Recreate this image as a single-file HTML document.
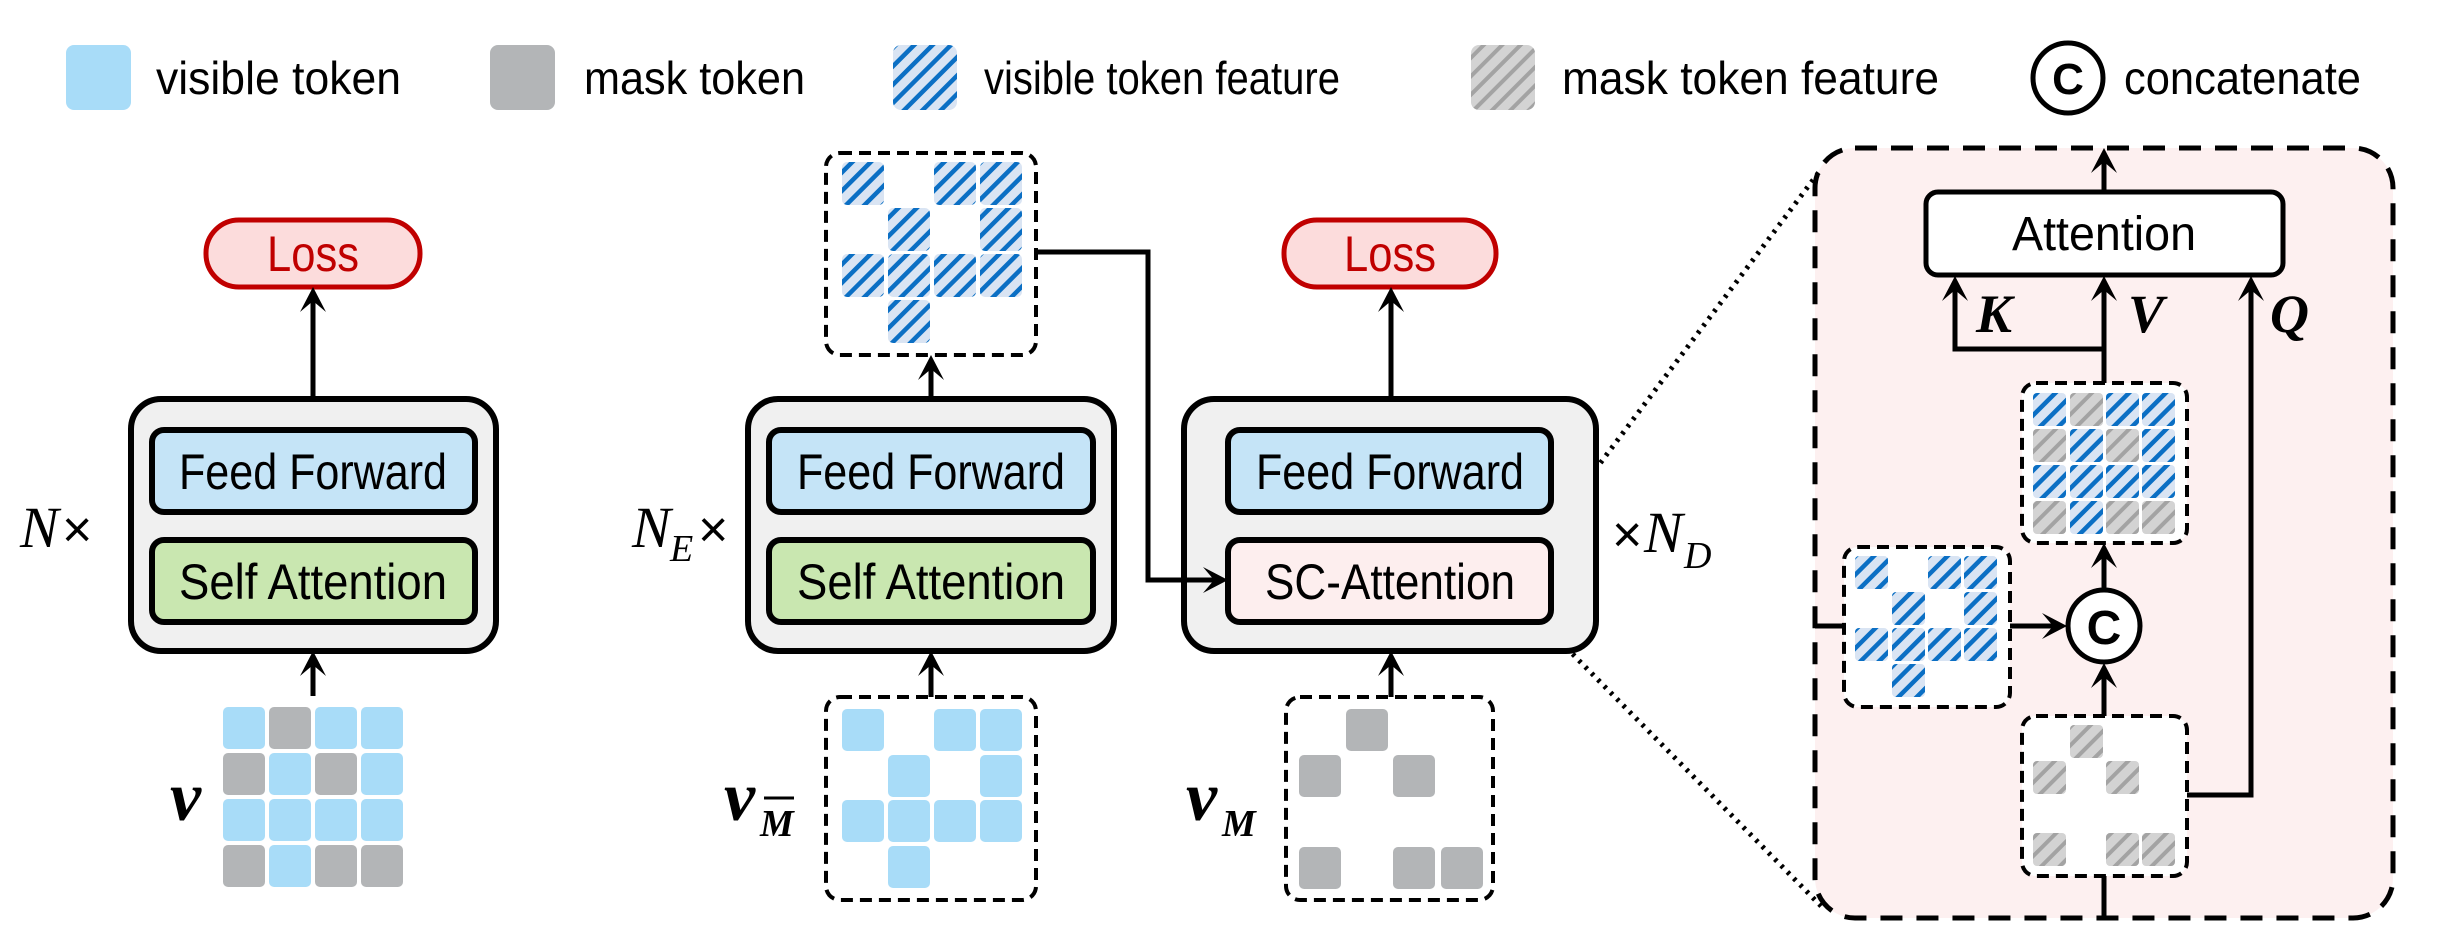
<!DOCTYPE html>
<html><head><meta charset="utf-8"><style>
html,body{margin:0;padding:0;background:#fff;}
svg{display:block;}
text{font-family:"Liberation Sans",sans-serif;}
.m{font-family:"Liberation Serif",serif;font-style:italic;}
</style></head><body>
<svg width="2440" height="936" viewBox="0 0 2440 936" xmlns="http://www.w3.org/2000/svg">
<defs>
<pattern id="hb" patternUnits="userSpaceOnUse" width="13" height="13" patternTransform="rotate(45)">
<rect width="13" height="13" fill="#d9e4f3"/><rect x="0" y="0" width="4.5" height="13" fill="#0b6fc4"/>
</pattern>
<pattern id="hg" patternUnits="userSpaceOnUse" width="13" height="13" patternTransform="rotate(45)">
<rect width="13" height="13" fill="#d3d3d3"/><rect x="0" y="0" width="4" height="13" fill="#a3a3a3"/>
</pattern>
</defs>

<!-- Legend -->
<rect x="66" y="45" width="65" height="65" rx="8" fill="#a8dcf8"/>
<text x="156" y="94" font-size="46" textLength="245" lengthAdjust="spacingAndGlyphs">visible token</text>
<rect x="490" y="45" width="65" height="65" rx="8" fill="#b3b5b7"/>
<text x="584" y="94" font-size="46" textLength="221" lengthAdjust="spacingAndGlyphs">mask token</text>
<rect x="893" y="45" width="64" height="65" rx="8" fill="url(#hb)"/>
<text x="984" y="94" font-size="46" textLength="356" lengthAdjust="spacingAndGlyphs">visible token feature</text>
<rect x="1471" y="45" width="64" height="65" rx="8" fill="url(#hg)"/>
<text x="1562" y="94" font-size="46" textLength="377" lengthAdjust="spacingAndGlyphs">mask token feature</text>
<circle cx="2068" cy="78" r="35" fill="#fff" stroke="#000" stroke-width="5"/>
<text x="2068" y="94" font-size="44" font-weight="bold" text-anchor="middle">C</text>
<text x="2124" y="94" font-size="46" textLength="237" lengthAdjust="spacingAndGlyphs">concatenate</text>

<!-- Zoom panel background + dotted lines -->
<rect x="1815" y="148" width="578" height="770" rx="40" fill="#fdf0f0" stroke="#000" stroke-width="5" stroke-dasharray="22,14"/>
<line x1="1541" y1="542" x2="1819" y2="172" stroke="#000" stroke-width="5" stroke-dasharray="3,6"/>
<line x1="1541" y1="622" x2="1823" y2="908" stroke="#000" stroke-width="5" stroke-dasharray="3,6"/>

<!-- Left block -->
<rect x="131" y="399" width="365" height="252" rx="30" fill="#f0f0f0" stroke="#000" stroke-width="6"/>
<rect x="152" y="430" width="323" height="82" rx="12" fill="#c5e4f7" stroke="#000" stroke-width="6"/>
<text x="313" y="489" font-size="50" text-anchor="middle" textLength="268" lengthAdjust="spacingAndGlyphs">Feed Forward</text>
<rect x="152" y="540" width="323" height="82" rx="12" fill="#c9e7b0" stroke="#000" stroke-width="6"/>
<text x="313" y="599" font-size="50" text-anchor="middle" textLength="268" lengthAdjust="spacingAndGlyphs">Self Attention</text>
<rect x="206" y="220" width="214" height="67" rx="33" fill="#fcdcdc" stroke="#c00000" stroke-width="5"/>
<text x="313" y="271" font-size="50" fill="#c00000" text-anchor="middle" textLength="92" lengthAdjust="spacingAndGlyphs">Loss</text>
<line x1="313" y1="399" x2="313" y2="300" stroke="#000" stroke-width="5"/>
<line x1="313" y1="696" x2="313" y2="664" stroke="#000" stroke-width="5"/>
<text x="20" y="547" class="m" font-size="58">N</text><text x="62" y="547" font-size="52">×</text>
<text x="170" y="820" class="m" font-size="70" font-weight="bold">v</text>
<g>
<rect x="223" y="707" width="42" height="42" rx="5" fill="#a8dcf8"/><rect x="269" y="707" width="42" height="42" rx="5" fill="#b3b5b7"/><rect x="315" y="707" width="42" height="42" rx="5" fill="#a8dcf8"/><rect x="361" y="707" width="42" height="42" rx="5" fill="#a8dcf8"/>
<rect x="223" y="753" width="42" height="42" rx="5" fill="#b3b5b7"/><rect x="269" y="753" width="42" height="42" rx="5" fill="#a8dcf8"/><rect x="315" y="753" width="42" height="42" rx="5" fill="#b3b5b7"/><rect x="361" y="753" width="42" height="42" rx="5" fill="#a8dcf8"/>
<rect x="223" y="799" width="42" height="42" rx="5" fill="#a8dcf8"/><rect x="269" y="799" width="42" height="42" rx="5" fill="#a8dcf8"/><rect x="315" y="799" width="42" height="42" rx="5" fill="#a8dcf8"/><rect x="361" y="799" width="42" height="42" rx="5" fill="#a8dcf8"/>
<rect x="223" y="845" width="42" height="42" rx="5" fill="#b3b5b7"/><rect x="269" y="845" width="42" height="42" rx="5" fill="#a8dcf8"/><rect x="315" y="845" width="42" height="42" rx="5" fill="#b3b5b7"/><rect x="361" y="845" width="42" height="42" rx="5" fill="#b3b5b7"/>
</g>

<!-- Encoder -->
<rect x="748" y="399" width="366" height="252" rx="30" fill="#f0f0f0" stroke="#000" stroke-width="6"/>
<rect x="769" y="430" width="324" height="82" rx="12" fill="#c5e4f7" stroke="#000" stroke-width="6"/>
<text x="931" y="489" font-size="50" text-anchor="middle" textLength="268" lengthAdjust="spacingAndGlyphs">Feed Forward</text>
<rect x="769" y="540" width="324" height="82" rx="12" fill="#c9e7b0" stroke="#000" stroke-width="6"/>
<text x="931" y="599" font-size="50" text-anchor="middle" textLength="268" lengthAdjust="spacingAndGlyphs">Self Attention</text>
<text x="632" y="547" class="m" font-size="58">N</text><text x="670" y="561" class="m" font-size="38">E</text><text x="698" y="547" font-size="52">×</text>
<rect x="826" y="153" width="210" height="202" rx="14" fill="#fff" stroke="#000" stroke-width="4" stroke-dasharray="12,7"/>
<g fill="url(#hb)">
<rect x="842" y="162" width="42" height="43" rx="5"/><rect x="934" y="162" width="42" height="43" rx="5"/><rect x="980" y="162" width="42" height="43" rx="5"/>
<rect x="888" y="208" width="42" height="43" rx="5"/><rect x="980" y="208" width="42" height="43" rx="5"/>
<rect x="842" y="254" width="42" height="43" rx="5"/><rect x="888" y="254" width="42" height="43" rx="5"/><rect x="934" y="254" width="42" height="43" rx="5"/><rect x="980" y="254" width="42" height="43" rx="5"/>
<rect x="888" y="300" width="42" height="43" rx="5"/>
</g>
<line x1="931" y1="399" x2="931" y2="368" stroke="#000" stroke-width="5"/>
<rect x="826" y="697" width="210" height="203" rx="14" fill="#fff" stroke="#000" stroke-width="4" stroke-dasharray="12,7"/>
<line x1="931" y1="697" x2="931" y2="664" stroke="#000" stroke-width="5"/>
<g fill="#a8dcf8">
<rect x="842" y="709" width="42" height="42" rx="5"/><rect x="934" y="709" width="42" height="42" rx="5"/><rect x="980" y="709" width="42" height="42" rx="5"/>
<rect x="888" y="755" width="42" height="42" rx="5"/><rect x="980" y="755" width="42" height="42" rx="5"/>
<rect x="842" y="800" width="42" height="42" rx="5"/><rect x="888" y="800" width="42" height="42" rx="5"/><rect x="934" y="800" width="42" height="42" rx="5"/><rect x="980" y="800" width="42" height="42" rx="5"/>
<rect x="888" y="846" width="42" height="42" rx="5"/>
</g>
<text x="724" y="820" class="m" font-size="70" font-weight="bold">v</text>
<text x="760" y="836" class="m" font-size="38" font-weight="bold">M</text>
<line x1="764" y1="798" x2="794" y2="798" stroke="#000" stroke-width="3"/>

<!-- Decoder -->
<rect x="1184" y="399" width="412" height="252" rx="30" fill="#f0f0f0" stroke="#000" stroke-width="6"/>
<rect x="1228" y="430" width="323" height="82" rx="12" fill="#c5e4f7" stroke="#000" stroke-width="6"/>
<text x="1390" y="489" font-size="50" text-anchor="middle" textLength="268" lengthAdjust="spacingAndGlyphs">Feed Forward</text>
<rect x="1228" y="540" width="323" height="82" rx="12" fill="#fdeeee" stroke="#000" stroke-width="6"/>
<text x="1390" y="599" font-size="50" text-anchor="middle" textLength="250" lengthAdjust="spacingAndGlyphs">SC-Attention</text>
<rect x="1284" y="220" width="212" height="67" rx="33" fill="#fcdcdc" stroke="#c00000" stroke-width="5"/>
<text x="1390" y="271" font-size="50" fill="#c00000" text-anchor="middle" textLength="92" lengthAdjust="spacingAndGlyphs">Loss</text>
<line x1="1391" y1="399" x2="1391" y2="300" stroke="#000" stroke-width="5"/>
<line x1="1391" y1="697" x2="1391" y2="664" stroke="#000" stroke-width="5"/>
<text x="1612" y="552" font-size="52">×</text><text x="1644" y="552" class="m" font-size="58">N</text><text x="1684" y="568" class="m" font-size="38">D</text>
<rect x="1286" y="697" width="207" height="203" rx="14" fill="#fff" stroke="#000" stroke-width="4" stroke-dasharray="12,7"/>
<g fill="#b3b5b7">
<rect x="1346" y="709" width="42" height="42" rx="5"/>
<rect x="1299" y="755" width="42" height="42" rx="5"/><rect x="1393" y="755" width="42" height="42" rx="5"/>
<rect x="1299" y="847" width="42" height="42" rx="5"/><rect x="1393" y="847" width="42" height="42" rx="5"/><rect x="1441" y="847" width="42" height="42" rx="5"/>
</g>
<text x="1186" y="820" class="m" font-size="70" font-weight="bold">v</text>
<text x="1222" y="836" class="m" font-size="38" font-weight="bold">M</text>

<!-- connector enc -> SC-Attention (drawn over decoder) -->
<polyline points="1036,252 1148,252 1148,580 1216,580" fill="none" stroke="#000" stroke-width="5"/>

<!-- Zoom panel contents -->
<line x1="2104" y1="192" x2="2104" y2="160" stroke="#000" stroke-width="5"/>
<rect x="1926" y="192" width="357" height="83" rx="12" fill="#fff" stroke="#000" stroke-width="5"/>
<text x="2104" y="250" font-size="48" text-anchor="middle" textLength="184" lengthAdjust="spacingAndGlyphs">Attention</text>
<polyline points="2104,349 1955,349 1955,290" fill="none" stroke="#000" stroke-width="5"/>
<line x1="2104" y1="383" x2="2104" y2="290" stroke="#000" stroke-width="5"/>
<polyline points="2187,795 2251,795 2251,290" fill="none" stroke="#000" stroke-width="5"/>
<text x="1976" y="332" class="m" font-size="54" font-weight="bold">K</text>
<text x="2128" y="332" class="m" font-size="54" font-weight="bold">V</text>
<text x="2270" y="332" class="m" font-size="54" font-weight="bold">Q</text>

<rect x="2022" y="383" width="165" height="160" rx="14" fill="#fff" stroke="#000" stroke-width="4" stroke-dasharray="12,7"/>
<g>
<rect x="2033" y="393" width="33" height="33" rx="4" fill="url(#hb)"/><rect x="2070" y="393" width="33" height="33" rx="4" fill="url(#hg)"/><rect x="2106" y="393" width="33" height="33" rx="4" fill="url(#hb)"/><rect x="2142" y="393" width="33" height="33" rx="4" fill="url(#hb)"/>
<rect x="2033" y="429" width="33" height="33" rx="4" fill="url(#hg)"/><rect x="2070" y="429" width="33" height="33" rx="4" fill="url(#hb)"/><rect x="2106" y="429" width="33" height="33" rx="4" fill="url(#hg)"/><rect x="2142" y="429" width="33" height="33" rx="4" fill="url(#hb)"/>
<rect x="2033" y="465" width="33" height="33" rx="4" fill="url(#hb)"/><rect x="2070" y="465" width="33" height="33" rx="4" fill="url(#hb)"/><rect x="2106" y="465" width="33" height="33" rx="4" fill="url(#hb)"/><rect x="2142" y="465" width="33" height="33" rx="4" fill="url(#hb)"/>
<rect x="2033" y="501" width="33" height="33" rx="4" fill="url(#hg)"/><rect x="2070" y="501" width="33" height="33" rx="4" fill="url(#hb)"/><rect x="2106" y="501" width="33" height="33" rx="4" fill="url(#hg)"/><rect x="2142" y="501" width="33" height="33" rx="4" fill="url(#hg)"/>
</g>
<line x1="2104" y1="589" x2="2104" y2="556" stroke="#000" stroke-width="5"/>
<circle cx="2104" cy="626" r="36" fill="#fff" stroke="#000" stroke-width="5"/>
<text x="2104" y="644" font-size="48" font-weight="bold" text-anchor="middle">C</text>

<line x1="1815" y1="626" x2="1844" y2="626" stroke="#000" stroke-width="5"/>
<rect x="1844" y="547" width="166" height="160" rx="14" fill="#fff" stroke="#000" stroke-width="4" stroke-dasharray="12,7"/>
<g fill="url(#hb)">
<rect x="1855" y="556" width="33" height="33" rx="4"/><rect x="1928" y="556" width="33" height="33" rx="4"/><rect x="1964" y="556" width="33" height="33" rx="4"/>
<rect x="1892" y="592" width="33" height="33" rx="4"/><rect x="1964" y="592" width="33" height="33" rx="4"/>
<rect x="1855" y="628" width="33" height="33" rx="4"/><rect x="1892" y="628" width="33" height="33" rx="4"/><rect x="1928" y="628" width="33" height="33" rx="4"/><rect x="1964" y="628" width="33" height="33" rx="4"/>
<rect x="1892" y="664" width="33" height="33" rx="4"/>
</g>
<line x1="2010" y1="626" x2="2055" y2="626" stroke="#000" stroke-width="5"/>

<line x1="2104" y1="716" x2="2104" y2="676" stroke="#000" stroke-width="5"/>
<line x1="2104" y1="918" x2="2104" y2="876" stroke="#000" stroke-width="5"/>
<rect x="2022" y="716" width="165" height="160" rx="14" fill="#fff" stroke="#000" stroke-width="4" stroke-dasharray="12,7"/>
<g fill="url(#hg)">
<rect x="2070" y="725" width="33" height="33" rx="4"/>
<rect x="2033" y="761" width="33" height="33" rx="4"/><rect x="2106" y="761" width="33" height="33" rx="4"/>
<rect x="2033" y="833" width="33" height="33" rx="4"/><rect x="2106" y="833" width="33" height="33" rx="4"/><rect x="2142" y="833" width="33" height="33" rx="4"/>
</g>

<!-- Arrowheads -->
<g fill="#000">
<path d="M313,287 l-13,25 l13,-11 l13,11 Z"/>
<path d="M313,651 l-13,25 l13,-11 l13,11 Z"/>
<path d="M931,355 l-13,25 l13,-11 l13,11 Z"/>
<path d="M931,651 l-13,25 l13,-11 l13,11 Z"/>
<path d="M1391,287 l-13,25 l13,-11 l13,11 Z"/>
<path d="M1391,651 l-13,25 l13,-11 l13,11 Z"/>
<path d="M2104,148 l-13,25 l13,-11 l13,11 Z"/>
<path d="M1955,276 l-13,25 l13,-11 l13,11 Z"/>
<path d="M2104,276 l-13,25 l13,-11 l13,11 Z"/>
<path d="M2251,276 l-13,25 l13,-11 l13,11 Z"/>
<path d="M2104,543 l-13,25 l13,-11 l13,11 Z"/>
<path d="M2104,663 l-13,25 l13,-11 l13,11 Z"/>
<path d="M1228,580 l-25,-13 l11,13 l-11,13 Z"/>
<path d="M2067,626 l-25,-13 l11,13 l-11,13 Z"/>
</g>
</svg>
</body></html>
